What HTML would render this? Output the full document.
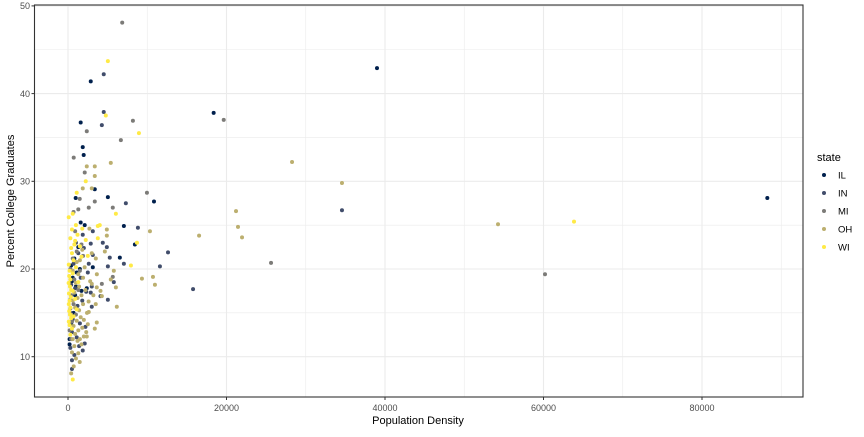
<!DOCTYPE html>
<html><head><meta charset="utf-8"><style>
body{margin:0;background:#fff;font-family:"Liberation Sans",Arial,sans-serif}
svg text{font-family:"Liberation Sans",Arial,sans-serif}
</style></head><body>
<svg id="chart" width="864" height="432" viewBox="0 0 864 432" xmlns="http://www.w3.org/2000/svg">
<rect width="864" height="432" fill="#fff"/>
<g id="grid"></g>
<g id="points"></g>
<rect x="34.5" y="5" width="768.5" height="392" fill="none" stroke="#333" stroke-width="1.1"/>
<g id="axes"></g>
<text x="418" y="424" font-size="11" text-anchor="middle" fill="#000">Population Density</text>
<text transform="translate(14,201) rotate(-90)" font-size="11" text-anchor="middle" fill="#000">Percent College Graduates</text>
<g id="legend">
<text x="817" y="161" font-size="11" fill="#000">state</text>
</g>
</svg>
<script>
const states=["IL","IN","MI","OH","WI"];
const colors=["#00204D","#414D6B","#7C7B78","#BCAF6F","#FFEA46"];
const xTicks=[0,20000,40000,60000,80000];
const xTickLabels=["0","20000","40000","60000","80000"];
const yTicks=[10,20,30,40,50];
const yTickLabels=["10","20","30","40","50"];
const ilDensity=[2870,38990,1600,1860,1980,3380,10850,970,5030,1600,2110,7050,8440,6540,3130,2370,88240,18380,200,400,700,300,900,500,1100,800,1300,600,1000,1500,400,1700,200];
const ilPct=[41.4,42.9,36.7,33.9,33.0,29.1,27.7,28.1,28.2,25.3,25.0,24.9,22.8,21.3,20.2,17.8,28.1,37.8,12.0,13.8,15.0,16.5,17.0,18.6,19.6,21.2,22.5,19.0,18.0,20.0,20.4,17.5,11.4];
const inDensity=[4510,4510,4270,7300,8820,3130,1860,2870,4390,4900,12620,5270,3130,7050,2620,11600,5030,5780,15780,2870,4100,5030,3000,2110,1860,500,34570,300,500,800,1100,1500,600,1200,1800,900,400,1600,2500,700,1300,2000,1000,300,2300,3000,2200,1400,500];
const inPct=[42.2,37.9,36.4,27.5,24.7,24.3,23.9,22.9,23.0,22.5,21.9,21.3,21.6,20.6,20.6,20.3,20.3,18.5,17.7,17.3,16.9,16.5,15.7,11.5,10.7,8.6,26.7,11.0,9.6,10.2,12.2,13.8,14.3,15.8,16.4,17.8,18.2,19.0,19.6,20.6,21.8,22.4,23.0,15.0,17.4,18.0,13.4,11.2,12.8];
const miDensity=[6840,8190,2370,6670,720,2110,9960,1480,3380,2620,5650,5650,4270,19650,25620,60190,200,500,300,700,1000,400,1300,800,1500,600,1100,300,900,700,1300,1700,400,1900];
const miPct=[48.1,36.9,35.7,34.7,32.7,31.0,28.7,28.0,27.7,27.0,27.0,19.1,18.3,37.0,20.7,19.4,13.0,14.0,15.5,16.0,14.8,17.0,17.6,18.8,19.8,21.2,22.0,20.0,24.3,26.5,26.8,22.8,12.0,21.5];
const ohDensity=[2370,3380,5400,3380,1860,3000,10340,4900,4900,16540,4650,3510,5780,3640,9330,10720,10970,5400,6040,3000,3630,4100,4270,6160,2620,3630,3380,2370,1480,720,400,28270,34570,21200,21450,21960,54260,500,800,1200,1500,900,1300,1800,700,1100,1600,2000,2400,1400,900,1900,2600,1200,1700,800,2200,1400,1000,2800,1900,1300,600,2100,1500,3000,2300,1700,1000,1300,2000,2500,3200,3500,600,400,1100,2700,1800,600];
const ohPct=[31.7,31.7,32.1,30.6,29.2,29.2,24.3,24.5,23.8,23.8,22.0,21.2,19.8,19.4,18.9,19.1,18.2,18.8,17.9,18.3,17.9,17.5,16.9,15.7,15.1,13.9,13.2,12.3,9.4,8.9,8.1,32.2,29.8,26.6,24.8,23.6,25.1,10.5,11.2,11.8,12.0,12.6,13.0,13.3,13.5,14.1,14.5,14.2,15.0,15.3,15.6,16.0,16.3,16.7,17.0,17.3,17.6,18.0,18.4,18.6,19.0,19.4,19.8,20.2,21.0,21.8,12.8,11.4,9.8,10.4,12.3,13.7,17.0,16.0,16.4,14.8,20.8,24.6,22.2,12.0];
const wiDensity=[5030,4770,8950,2240,1100,6040,600,90,3760,4010,3760,2240,8700,7940,63850,100,200,150,300,80,250,400,120,350,200,100,300,150,250,400,100,200,500,300,600,700,500,400,800,300,900,1200,1500,1700,1000,1300,600,900,1100,700,1800,1000,500,2500,600];
const wiPct=[43.7,37.5,35.5,30.0,28.7,26.3,26.3,25.9,24.9,25.0,23.5,23.3,23.0,20.4,25.4,20.5,19.8,19.2,18.8,18.4,18.0,17.6,17.2,16.8,16.4,16.0,15.6,15.2,14.8,14.4,14.0,13.6,13.2,12.5,19.5,21.0,21.8,22.4,22.8,23.5,23.2,23.9,22.6,21.4,20.2,18.5,17.5,16.6,15.4,14.6,24.6,25.0,24.5,21.5,7.4];
const densities=[ilDensity,inDensity,miDensity,ohDensity,wiDensity];
const pcts=[ilPct,inPct,miPct,ohPct,wiPct];

const NS="http://www.w3.org/2000/svg";
function xs(v){return 68+v*0.007925;}
function ys(v){return 356.7-(v-10)*8.77;}
function mk(tag,attrs,parent){const e=document.createElementNS(NS,tag);for(const k in attrs)e.setAttribute(k,attrs[k]);parent.appendChild(e);return e;}
const grid=document.getElementById('grid'),pts=document.getElementById('points'),axes=document.getElementById('axes'),leg=document.getElementById('legend');
for(let v=0;v<=90000;v+=10000){const l=mk('line',{x1:xs(v),x2:xs(v),y1:5,y2:397,stroke:'#ebebeb','stroke-width':v%20000===0?1.1:0.6},grid);

}
for(let v=5;v<=50;v+=5){const y=ys(v);if(y<5||y>397)continue;const l=mk('line',{x1:34.5,x2:803,y1:y,y2:y,stroke:'#ebebeb','stroke-width':v%10===0?1.1:0.6},grid);

}
xTicks.forEach((v,i)=>{mk('line',{x1:xs(v),x2:xs(v),y1:397,y2:400,stroke:'#333'},axes);
const t=mk('text',{x:xs(v),y:411,'font-size':9,'text-anchor':'middle',fill:'#4d4d4d'},axes);t.textContent=xTickLabels[i];

});
yTicks.forEach((v,i)=>{mk('line',{x1:31.5,x2:34.5,y1:ys(v),y2:ys(v),stroke:'#333'},axes);
const t=mk('text',{x:30,y:ys(v)+3.2,'font-size':9,'text-anchor':'end',fill:'#4d4d4d'},axes);t.textContent=yTickLabels[i];

});
states.forEach((s,si)=>{densities[si].forEach((d,j)=>{const c=mk('circle',{cx:xs(d),cy:ys(pcts[si][j]),r:2,fill:colors[si]},pts);

});
const y=175+si*18;
const c=mk('circle',{cx:824,cy:y,r:2,fill:colors[si]},leg);


const t=mk('text',{x:838,y:y+3.5,'font-size':9.5,fill:'#000'},leg);t.textContent=s;

});
</script>
</body></html>
